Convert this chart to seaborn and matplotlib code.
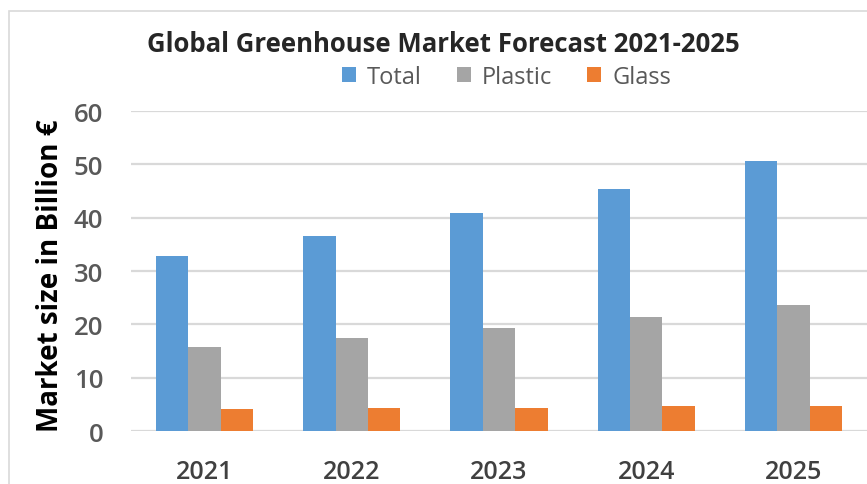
import numpy as np
import pandas as pd
import matplotlib.pyplot as plt
import seaborn as sns

# data
years = ["2021", "2022", "2023", "2024", "2025"]
total = [32.9, 36.6, 40.9, 45.4, 50.7]
plastic = [15.7, 17.4, 19.3, 21.4, 23.7]
glass = [4.2, 4.4, 4.4, 4.7, 4.7]
series = ["Total", "Plastic", "Glass"]
colors = ["#5B9BD5", "#A5A5A5", "#ED7D31"]

df = pd.DataFrame({"year": years, "Total": total, "Plastic": plastic, "Glass": glass})
data = df.melt(id_vars="year", var_name="series", value_name="value")

sns.set_style("white")
plt.rcParams["font.family"] = ["Open Sans", "DejaVu Sans"]

fig = plt.figure(figsize=(8.67, 4.85), dpi=100)
ax = fig.add_axes([0.151, 0.109, 0.849, 0.660])

sns.barplot(data=data, x="year", y="value", hue="series", hue_order=series,
            palette=colors, width=0.66, gap=0, saturation=1, linewidth=0, ax=ax)

ax.set_ylim(0, 60)
ax.set_yticks(np.arange(0, 61, 10))
ax.yaxis.grid(True, color="#d9d9d9", linewidth=1.6)
ax.set_axisbelow(True)
for s in ax.spines.values():
    s.set_visible(False)
ax.tick_params(axis="y", length=0, pad=20, labelsize=18.5, labelcolor="#595959")
ax.tick_params(axis="x", length=0, pad=20, labelsize=18, labelcolor="#404040")
for t in ax.get_xticklabels() + ax.get_yticklabels():
    t.set_fontweight("semibold")
ax.set_xlabel("")
ax.set_ylabel("")

handles, labels = ax.get_legend_handles_labels()
leg = ax.legend(handles, labels, ncol=3, loc="center", bbox_to_anchor=(0.584, 0.839),
                bbox_transform=fig.transFigure, frameon=False, fontsize=17,
                handlelength=0.6, handleheight=0.6, handletextpad=0.45,
                columnspacing=1.5, labelcolor="#595959")

fig.text(0.511, 0.909, "Global Greenhouse Market Forecast 2021-2025",
         ha="center", va="center", fontsize=18.5, fontweight="bold", color="#262626")
fig.text(0.058, 0.432, "Market size in Billion €", rotation=90,
         ha="center", va="center", fontsize=20, fontweight="bold", color="black")

# chart area frame
fig.add_artist(plt.Rectangle((0.0104, -0.1), 1.2, 1.075, transform=fig.transFigure,
                             fill=False, edgecolor="#d9d9d9", linewidth=1.2))

fig.savefig("out.png", dpi=100)
